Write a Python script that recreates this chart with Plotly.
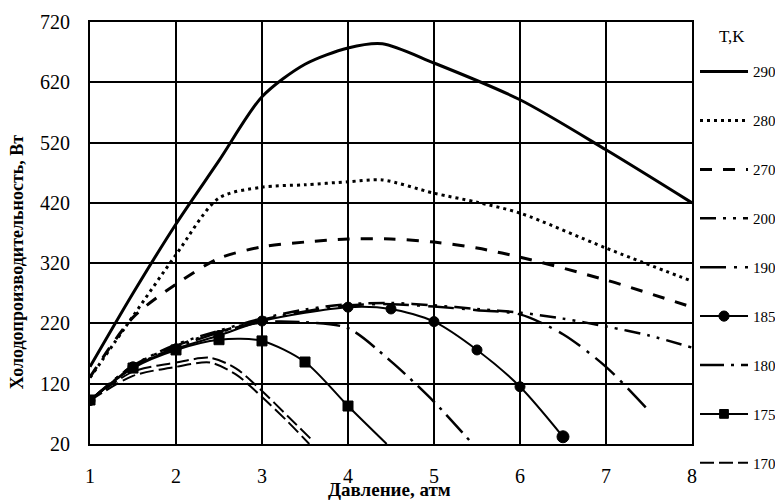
import plotly.graph_objects as go

# ---- data ----
p_290 = [1, 1.5, 2, 2.5, 3, 3.5, 4, 4.4, 5, 6, 7, 8]
q_290 = [148, 270, 385, 490, 596, 650, 677, 684, 652, 591, 508, 420]

p_280 = [1, 1.5, 2, 2.5, 3, 3.5, 4, 4.4, 5, 5.5, 6, 7, 8]
q_280 = [130, 232, 334, 428, 446, 450, 455, 458, 436, 421, 403, 345, 290]

p_270 = [1, 1.5, 2, 2.5, 3, 3.5, 4, 4.5, 5, 5.5, 6, 7, 8]
q_270 = [131, 230, 285, 328, 347, 355, 360, 360, 355, 345, 330, 292, 247]

p_200 = [1, 1.5, 2, 2.5, 3, 3.5, 4, 4.5, 5, 5.5, 6, 6.5, 7, 7.5, 8]
q_200 = [92, 150, 185, 208, 228, 243, 252, 254, 250, 244, 238, 228, 215, 200, 180]

p_190 = [1, 1.5, 2, 2.5, 3, 3.5, 4, 4.5, 5, 5.5, 6, 6.5, 7, 7.5]
q_190 = [92, 150, 183, 206, 226, 240, 250, 252, 248, 242, 235, 202, 148, 75]

p_185 = [1, 1.5, 2, 2.5, 3, 4, 4.5, 5, 5.5, 6, 6.5]
q_185 = [92, 148, 178, 200, 224, 247, 244, 223, 176, 115, 32]

p_180 = [1, 1.5, 2, 2.5, 3, 3.5, 4, 4.5, 5, 5.45]
q_180 = [92, 148, 180, 205, 222, 222, 212, 157, 90, 20]

p_175 = [1, 1.5, 2, 2.5, 3, 3.5, 4, 4.45]
q_175 = [93, 146, 176, 193, 191, 156, 83, 20]

p_170a = [1, 1.5, 2, 2.4, 2.7, 3, 3.3, 3.6]
q_170a = [92, 140, 155, 163, 145, 108, 66, 24]
p_170b = [1, 1.5, 2, 2.4, 2.7, 3, 3.3, 3.55]
q_170b = [92, 133, 148, 155, 135, 98, 57, 20]

x_ticks = [1, 2, 3, 4, 5, 6, 7, 8]
y_ticks = [20, 120, 220, 320, 420, 520, 620, 720]

FONT = "Liberation Serif"
BLACK = "#000000"

fig = go.Figure()

def add(x, y, name, width, dash, marker=None, msize=None, showlegend=True, group=None):
    kw = {}
    if marker:
        kw["mode"] = "lines+markers"
        kw["marker"] = dict(symbol=marker, size=msize if msize is not None else 10,
                            color=BLACK, opacity=1, line=dict(color=BLACK, width=1))
    else:
        kw["mode"] = "lines"
    fig.add_trace(go.Scatter(
        x=x, y=y, name=name, legendgroup=group or name, showlegend=showlegend,
        line=dict(color=BLACK, width=width, dash=dash, shape="spline", smoothing=0.8),
        **kw))

add(p_290, q_290, "290", 3, "solid")
add(p_280, q_280, "280", 3, "3px,4px")
add(p_270, q_270, "270", 3, "12px,11px")
add(p_200, q_200, "200", 2.5, "16px,7px,3px,7px,3px,7px")
add(p_190, q_190, "190", 2.5, "26px,8px,3px,8px")
add(p_185, q_185, "185", 2, "solid", marker="circle", msize=[10] * (len(p_185) - 1) + [12])
add(p_180, q_180, "180", 2.5, "24px,7px,3px,7px")
add(p_175, q_175, "175", 2, "solid", marker="square", msize=[10] * (len(p_175) - 1) + [0])
add(p_170a, q_170a, "170", 2, "14px,5px", group="170")
add(p_170b, q_170b, "170", 2, "14px,5px", showlegend=False, group="170")

axis_common = dict(
    showline=True, linecolor=BLACK, linewidth=2, mirror=True,
    showgrid=True, gridcolor=BLACK, gridwidth=1.6,
    zeroline=False, ticks="outside", tickcolor="rgba(0,0,0,0)",
    tickfont=dict(family=FONT, size=20, color=BLACK),
)

fig.update_xaxes(range=[1, 8], tickvals=x_ticks, ticktext=[str(v) for v in x_ticks],
                 ticklen=13, **axis_common)
fig.update_yaxes(range=[20, 720], tickvals=y_ticks, ticktext=[str(v) for v in y_ticks],
                 ticklen=14, **axis_common)

fig.add_annotation(text="<b>Давление, атм</b>", xref="paper", yref="paper",
                   x=0.498, y=-0.108, xanchor="center", yanchor="middle",
                   showarrow=False, font=dict(family=FONT, size=19, color=BLACK))
fig.add_annotation(text="<b>Холодопроизводительность, Вт</b>", xref="paper", yref="paper",
                   x=-0.121, y=0.431, xanchor="center", yanchor="middle", textangle=-90,
                   showarrow=False, font=dict(family=FONT, size=18, color=BLACK))
fig.add_annotation(text="T,K", xref="paper", yref="paper",
                   x=1.066, y=0.966, xanchor="center", yanchor="middle",
                   showarrow=False, font=dict(family=FONT, size=17, color=BLACK))

# page body adds an 8px offset, so the figure is sized to fit the 783x501 window
fig.update_layout(
    width=775, height=493,
    margin=dict(l=82, r=91, t=14, b=57, autoexpand=False),
    paper_bgcolor="white", plot_bgcolor="white",
    showlegend=True,
    legend=dict(
        x=1.005, y=0.921, xanchor="left", yanchor="top",
        font=dict(family=FONT, size=15, color=BLACK),
        tracegroupgap=26.4, itemwidth=48, bgcolor="rgba(0,0,0,0)",
    ),
)

fig.write_html("out.html")
